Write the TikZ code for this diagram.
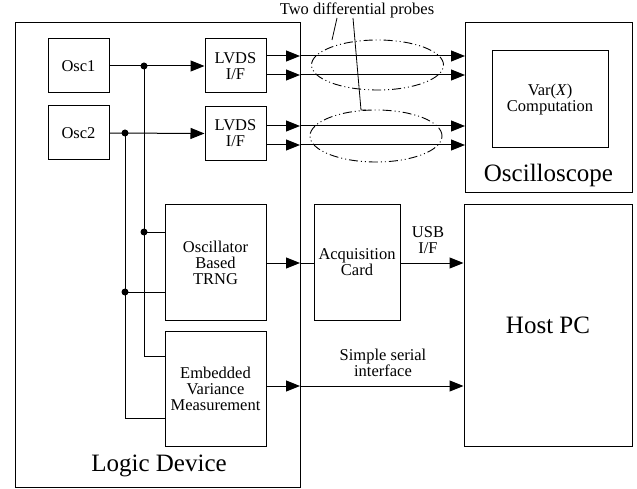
\documentclass[tikz,border=0pt]{standalone}
\usepackage{fontspec}
\setmainfont{Liberation Serif}
\usetikzlibrary{arrows.meta,shapes.geometric}
\begin{document}
\begin{tikzpicture}[x=1pt,y=-1pt,
  every node/.style={font=\fontsize{16.5}{19}\selectfont},
  blk/.style={draw,line width=1pt,rectangle,inner sep=0pt,align=center},
  wire/.style={line width=1pt},
  arr/.style={line width=1pt,-{Triangle[length=14pt,width=11pt]}},
  probe/.style={line width=0.9pt,dash pattern=on 9pt off 3pt on 1pt off 3pt on 1pt off 3pt},
  big/.style={font=\fontsize{25}{29}\selectfont},
  dot/.style={circle,fill,inner sep=0pt,minimum size=7pt}]
\useasboundingbox (0,0) rectangle (637,489);
% big boxes
\node[blk,minimum width=285pt,minimum height=464pt] (logic) at (157.5,255) {};
\node[big] (logiclbl) at (159,466) {Logic Device};
\node[blk,minimum width=167pt,minimum height=170pt] (osc) at (548.5,108) {};
\node[big] (osclbl) at (548.5,175) {Oscilloscope};
\node[blk,minimum width=116pt,minimum height=97pt] (var) at (550,99.5) {Var(\textit{X})\\[-3pt]Computation};
\node[blk,minimum width=168pt,minimum height=241pt,big] (host) at (548,325.5) {Host PC};
% inner boxes
\node[blk,minimum width=61pt,minimum height=54pt] (osc1) at (78.5,66) {Osc1};
\node[blk,minimum width=61pt,minimum height=54pt] (osc2) at (78.5,133) {Osc2};
\node[blk,minimum width=61pt,minimum height=54pt] (lvds1) at (235.5,66) {LVDS\\[-3pt]I/F};
\node[blk,minimum width=61pt,minimum height=54pt] (lvds2) at (235.5,133.5) {LVDS\\[-3pt]I/F};
\node[blk,minimum width=101pt,minimum height=115pt] (trng) at (215.5,262.5) {Oscillator\\[-3pt]Based\\[-3pt]TRNG};
\node[blk,minimum width=101pt,minimum height=115pt] (evm) at (215.5,388.5) {Embedded\\[-3pt]Variance\\[-3pt]Measurement};
\node[blk,minimum width=86pt,minimum height=115pt] (acq) at (357,262.5) {Acquisition\\[-3pt]Card};
% oscillator wiring
\node[dot] (d1) at (144,66) {};
\node[dot] (d2) at (125,133) {};
\node[dot] (d3) at (144,232) {};
\node[dot] (d4) at (125,292) {};
\coordinate (c1) at (144,356);
\coordinate (c2) at (125,418);
\draw[arr] (osc1.east) -- (lvds1.west);
\draw[arr] (osc2.east) -- (lvds2.west);
\draw[wire] (d1.center) -- (c1) -- (c1 -| evm.west);
\draw[wire] (d2.center) -- (c2) -- (c2 -| evm.west);
\draw[wire] (d3.center) -- (d3 -| trng.west);
\draw[wire] (d4.center) -- (d4 -| trng.west);
% LVDS outputs
\foreach \y/\n in {56/a,75/b,126/c,145/d}{
  \coordinate (s\n) at (266,\y);
  \coordinate (m\n) at (300,\y);
  \coordinate (e\n) at (465,\y);
  \draw[arr] (s\n) -- (m\n);
  \draw[arr] (m\n) -- (e\n);
}
% probes
\node[ellipse,probe,draw,minimum width=132pt,minimum height=50pt] (p1) at (377.5,65) {};
\node[ellipse,probe,draw,minimum width=132pt,minimum height=52pt] (p2) at (376,136) {};
\node (plbl) at (357,10) {Two differential probes};
\coordinate (t1) at (337,18);
\coordinate (t2) at (353,18);
\coordinate (t3) at (361,110);
\coordinate (t3e) at (366,110);
\draw[line width=0.8pt] (t1) -- (332,40);
\draw[line width=0.8pt] (t2) -- (t3) -- (t3e);
% TRNG / acquisition / host
\coordinate (tm) at (300,263);
\coordinate (em) at (300,386);
\draw[arr] (trng.east |- tm) -- (tm);
\draw[wire] (tm) -- (tm -| acq.west);
\draw[arr] (acq.east |- tm) -- (tm -| host.west);
\draw[arr] (evm.east |- em) -- (em);
\draw[arr] (em) -- (em -| host.west);
\node[align=center] (usb) at (428,240) {USB\\[-3pt]I/F};
\node[align=center] (ser) at (383,363) {Simple serial\\[-3pt]interface};
\end{tikzpicture}
\end{document}
